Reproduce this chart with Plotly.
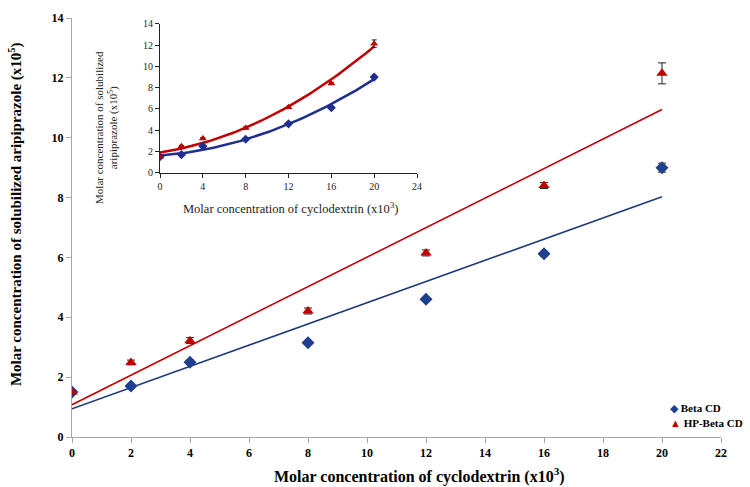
import numpy as np
import plotly.graph_objects as go

# ---- data ----
conc = [0, 2, 4, 8, 12, 16, 20]
beta_cd = [1.5, 1.7, 2.5, 3.15, 4.6, 6.12, 9.0]
beta_cd_err = [0.06, 0.05, 0.07, 0.05, 0.06, 0.08, 0.15]
hp_beta_cd = [1.5, 2.49, 3.22, 4.21, 6.15, 8.4, 12.15]
hp_beta_cd_err = [0.05, 0.08, 0.1, 0.1, 0.1, 0.1, 0.35]
series_names = ["Beta CD", "HP-Beta CD"]

main_x_ticks = list(range(0, 23, 2))
main_y_ticks = list(range(0, 15, 2))
inset_x_ticks = list(range(0, 25, 4))
inset_y_ticks = list(range(0, 15, 2))

BLUE = "#1F3F8F"
BLUE_LINE = "#1F3A7A"
RED = "#C00000"
SERIF = "Liberation Serif, Times New Roman, serif"

x_arr = np.array(conc, dtype=float)
b_arr = np.array(beta_cd)
h_arr = np.array(hp_beta_cd)

# linear trend lines (main) and 2nd order trend (inset)
b_lin = np.polyfit(x_arr, b_arr, 1)
h_lin = np.polyfit(x_arr, h_arr, 1)
b_quad = np.polyfit(x_arr, b_arr, 2)
h_quad = np.polyfit(x_arr, h_arr, 2)
xl = np.array([0.0, 20.0])
xq = np.linspace(0, 20, 60)

fig = go.Figure()

# main chart trend lines
fig.add_trace(go.Scatter(x=xl, y=np.polyval(b_lin, xl), mode="lines",
                         line=dict(color=BLUE_LINE, width=1.6), showlegend=False,
                         xaxis="x", yaxis="y"))
fig.add_trace(go.Scatter(x=xl, y=np.polyval(h_lin, xl), mode="lines",
                         line=dict(color=RED, width=1.6), showlegend=False,
                         xaxis="x", yaxis="y"))

# main chart markers
fig.add_trace(go.Scatter(x=conc, y=beta_cd, mode="markers", name=series_names[0],
                         marker=dict(symbol="diamond", size=10, color=BLUE),
                         error_y=dict(type="data", array=beta_cd_err, color="#222222",
                                      thickness=1, width=4),
                         showlegend=False, xaxis="x", yaxis="y"))
fig.add_trace(go.Scatter(x=conc, y=hp_beta_cd, mode="markers", name=series_names[1],
                         marker=dict(symbol="triangle-up", size=10, color=RED),
                         error_y=dict(type="data", array=hp_beta_cd_err, color="#222222",
                                      thickness=1, width=4),
                         showlegend=False, xaxis="x", yaxis="y"))

# inset curves
fig.add_trace(go.Scatter(x=xq, y=np.polyval(b_quad, xq), mode="lines",
                         line=dict(color="#1F2E8F", width=2.5), showlegend=False,
                         xaxis="x2", yaxis="y2"))
fig.add_trace(go.Scatter(x=xq, y=np.polyval(h_quad, xq), mode="lines",
                         line=dict(color=RED, width=2.5), showlegend=False,
                         xaxis="x2", yaxis="y2"))
fig.add_trace(go.Scatter(x=conc, y=beta_cd, mode="markers", showlegend=False,
                         marker=dict(symbol="diamond", size=7, color="#1F2E8F"),
                         error_y=dict(type="data", array=beta_cd_err, color="#222222",
                                      thickness=1, width=2.5),
                         xaxis="x2", yaxis="y2"))
fig.add_trace(go.Scatter(x=conc, y=hp_beta_cd, mode="markers", showlegend=False,
                         marker=dict(symbol="triangle-up", size=7, color=RED),
                         error_y=dict(type="data", array=hp_beta_cd_err, color="#222222",
                                      thickness=1, width=2.5),
                         xaxis="x2", yaxis="y2"))

main_tickfont = dict(family=SERIF, size=12, color="#000000")
inset_tickfont = dict(family=SERIF, size=10, color="#222222")

fig.update_layout(
    width=750, height=487,
    margin=dict(l=72, r=29, t=18, b=50),
    paper_bgcolor="white", plot_bgcolor="white",
    font=dict(family=SERIF, color="#000000"),
    xaxis=dict(domain=[0, 1], range=[0, 22], tickvals=main_x_ticks,
               ticktext=[f"<b>{v}</b>" for v in main_x_ticks],
               showgrid=False, zeroline=False, showline=True, linecolor="#A6A6A6",
               linewidth=1, ticks="outside", ticklen=5, tickcolor="#A6A6A6",
               tickfont=main_tickfont),
    yaxis=dict(domain=[0, 1], range=[0, 14], tickvals=main_y_ticks,
               ticktext=[f"<b>{v}</b>" for v in main_y_ticks],
               showgrid=False, zeroline=False, showline=True, linecolor="#A6A6A6",
               linewidth=1, ticks="outside", ticklen=5, tickcolor="#A6A6A6",
               tickfont=main_tickfont),
    xaxis2=dict(domain=[0.1356, 0.5316], anchor="y2", range=[0, 24],
                tickvals=inset_x_ticks, showgrid=False, zeroline=False,
                showline=True, linecolor="#222222", linewidth=1, ticks="outside",
                ticklen=4, tickcolor="#222222", tickfont=inset_tickfont),
    yaxis2=dict(domain=[0.6308, 0.9857], anchor="x2", range=[0, 14],
                tickvals=inset_y_ticks, showgrid=False, zeroline=False,
                showline=True, linecolor="#222222", linewidth=1, ticks="outside",
                ticklen=4, tickcolor="#222222", tickfont=inset_tickfont),
    showlegend=False,
)

annotations = [
    dict(text="<b>Molar concentration of cyclodextrin (x10<sup>3</sup>)</b>",
         x=0.536, y=-0.0907, xref="paper", yref="paper", showarrow=False,
         xanchor="center", yanchor="middle", font=dict(family=SERIF, size=16)),
    dict(text="<b>Molar concentration of solubilized aripiprazole (x10<sup>5</sup>)</b>",
         x=-0.0878, y=0.532, xref="paper", yref="paper", showarrow=False,
         textangle=-90, xanchor="center", yanchor="middle",
         font=dict(family=SERIF, size=15)),
    dict(text="Molar concentration of cyclodextrin (x10<sup>3</sup>)",
         x=0.3374, y=0.5465, xref="paper", yref="paper", showarrow=False,
         xanchor="center", yanchor="middle", font=dict(family=SERIF, size=12.5, color="#222222")),
    dict(text="Molar concentration of solubilized<br>aripiprazole (x10<sup>5</sup>)",
         x=0.0539, y=0.740, xref="paper", yref="paper", showarrow=False,
         textangle=-90, xanchor="center", yanchor="middle",
         font=dict(family=SERIF, size=11, color="#222222")),
    # legend entries
    dict(text=f"<span style='color:{BLUE}'>◆</span> <b>{series_names[0]}</b>",
         x=(668 - 72) / 649, y=(437 - 408) / 419, xref="paper", yref="paper",
         showarrow=False, xanchor="left", yanchor="middle",
         font=dict(family=SERIF, size=11, color="#000000")),
    dict(text=f"<span style='color:{RED}'>▲</span> <b>{series_names[1]}</b>",
         x=(668 - 72) / 649, y=(437 - 423) / 419, xref="paper", yref="paper",
         showarrow=False, xanchor="left", yanchor="middle",
         font=dict(family=SERIF, size=11, color="#000000")),
]
fig.update_layout(annotations=annotations)

fig.write_html("out.html", config={"displayModeBar": False},
               post_script="document.body.style.margin='0';document.body.style.padding='0';")
